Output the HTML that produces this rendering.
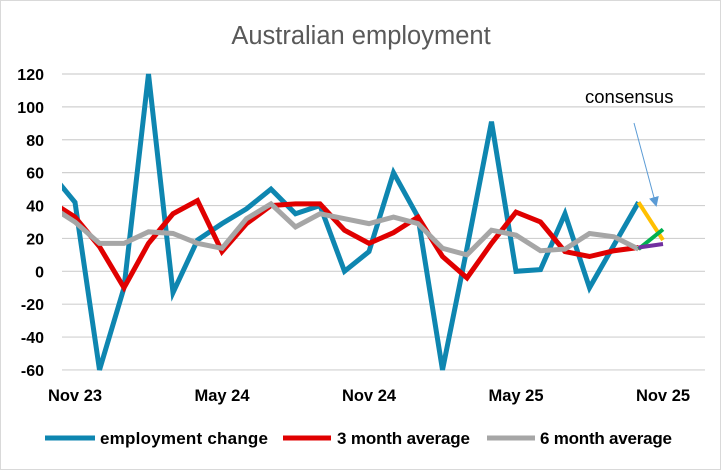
<!DOCTYPE html>
<html><head><meta charset="utf-8"><style>
body{margin:0;background:#fff}
svg text{font-family:"Liberation Sans",sans-serif}
</style></head><body>
<svg id="chart" width="721" height="470" viewBox="0 0 721 470" xmlns="http://www.w3.org/2000/svg">
<rect x="0.5" y="0.5" width="720" height="469" fill="#fff" stroke="#d9d9d9"/>
<text x="361" y="44" text-anchor="middle" font-size="25.5" fill="#595959">Australian employment</text>
<g id="grid"></g>
<g id="yticks"></g>
<g id="xticks"></g>
<defs><clipPath id="plotclip"><rect x="62" y="60" width="650" height="320"/></clipPath>
<marker id="arrowhead" markerWidth="10" markerHeight="10" refX="8" refY="5" orient="auto"><path d="M0,0 L10,5 L0,10 z" fill="#5b9bd5"/></marker></defs>
<g id="series" clip-path="url(#plotclip)"></g>
<text x="585" y="103" font-size="18.5" fill="#000">consensus</text>
<line x1="634" y1="123" x2="656" y2="205" stroke="#5b9bd5" stroke-width="1" marker-end="url(#arrowhead)"/>
<g>
<line x1="45" y1="438" x2="95" y2="438" stroke="#0e86b0" stroke-width="5"/>
<text x="100" y="444" font-size="17" font-weight="bold" textLength="168">employment change</text>
<line x1="283" y1="438" x2="331" y2="438" stroke="#e00000" stroke-width="5"/>
<text x="337" y="444" font-size="17" font-weight="bold" textLength="133">3 month average</text>
<line x1="487" y1="438" x2="535" y2="438" stroke="#a6a6a6" stroke-width="5"/>
<text x="540" y="444" font-size="17" font-weight="bold" textLength="132">6 month average</text>
</g>
</svg>
<script>
// months from Oct 23 (index 0) through Oct 25; forecast at Nov 25
const employment = [60,42,-60,-10,120,-13,19,29,38,50,35,40,0,12,60,33,-60,14,91,0,1,35,-10,16,42];
const avg3 = [42.6,33,15,-10,17,35,43,12,29,40,41,41,25,17,23.5,33,9,-4,17,36,30,12,9,12.5,14.5];
const avg6 = [39.6,30,17,17,24,23,17,14,32,41,27,35,32,29,33,29,14,10,25,22,12.5,13.5,23,21,13.5];
const consensusEmployment = 19;
const consensus3 = 16.6;
const consensus6 = 25.5;
const yTicks = [120,100,80,60,40,20,0,-20,-40,-60];
const xLabels = ["Nov 23","May 24","Nov 24","May 25","Nov 25"];
const xLabelIdx = [1,7,13,19,25];

const NS="http://www.w3.org/2000/svg";
const yScale=v=>271.3-v*1.644;
const xScale=i=>50.5+i*24.5;
const gGrid=document.getElementById('grid'),gY=document.getElementById('yticks'),gX=document.getElementById('xticks'),gS=document.getElementById('series');
function mk(t,a){const e=document.createElementNS(NS,t);for(const k in a)e.setAttribute(k,a[k]);return e;}
yTicks.forEach(v=>{
  const l=mk('line',{x1:62,x2:705,y1:yScale(v),y2:yScale(v),stroke:'#d0d0d0','stroke-width':1.2});
  
  
  gGrid.appendChild(l);
  const t=mk('text',{x:44,y:yScale(v)+6,'text-anchor':'end','font-size':16,'font-weight':'bold'});
  t.textContent=v;
  
  
  gY.appendChild(t);
});
xLabels.forEach((s,i)=>{
  const t=mk('text',{x:xScale(xLabelIdx[i]),y:401,'text-anchor':'middle','font-size':16.5,'font-weight':'bold'});
  t.textContent=s;
  
  
  gX.appendChild(t);
});
function line(vals,start,color,name,w){
  const pts=vals.map((v,i)=>xScale(start+i)+','+yScale(v)).join(' ');
  const p=mk('polyline',{points:pts,fill:'none',stroke:color,'stroke-width':w,'stroke-linejoin':'miter'});
  
  
  gS.appendChild(p);
}
line(employment,0,'#0e86b0','employment-change-line',5);
line(avg3,0,'#e00000','3-month-average-line',5);
line(avg6,0,'#a6a6a6','6-month-average-line',5);
line([employment[employment.length-1],consensusEmployment],employment.length-1,'#ffc000','consensus-employment-line',4);
line([avg6[avg6.length-1],consensus6],avg6.length-1,'#00b050','consensus-6-month-line',4);
line([avg3[avg3.length-1],consensus3],avg3.length-1,'#7030a0','consensus-3-month-line',4);
</script>
</body></html>
